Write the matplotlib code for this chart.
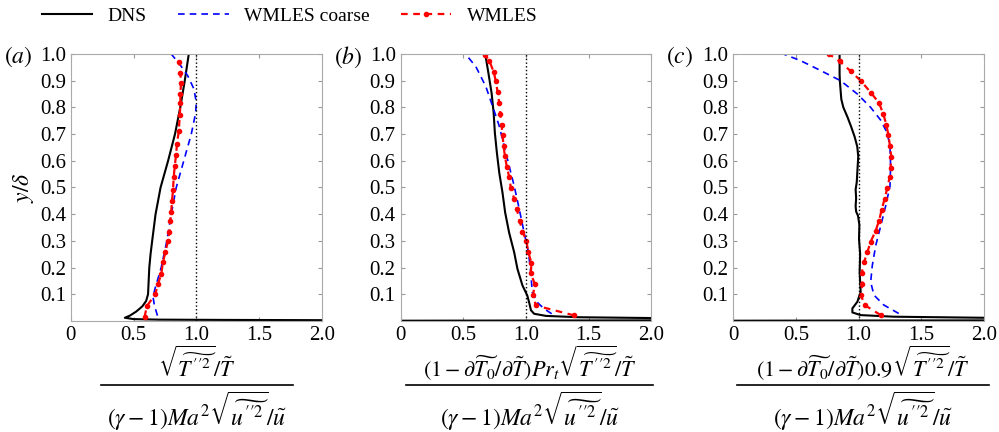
import matplotlib
matplotlib.use('Agg')
import matplotlib.pyplot as plt
from matplotlib.lines import Line2D

plt.rcParams['font.family'] = ['Liberation Serif', 'DejaVu Serif']
plt.rcParams['mathtext.fontset'] = 'stix'

# ---- panel (a) ----
a_dns_x = [2.0, 1.2, 0.7, 0.5, 0.43, 0.47, 0.52, 0.57, 0.60, 0.615, 0.62, 0.625, 0.635, 0.648, 0.675, 0.715, 0.775, 0.83, 0.872, 0.908, 0.94]
a_dns_y = [0.003, 0.004, 0.005, 0.007, 0.012, 0.02, 0.035, 0.055, 0.075, 0.10, 0.15, 0.20, 0.25, 0.30, 0.40, 0.50, 0.60, 0.70, 0.80, 0.90, 1.0]
a_crs_x = [0.69, 0.665, 0.655, 0.67, 0.72, 0.765, 0.80, 0.84, 0.90, 0.96, 0.995, 1.0, 0.98, 0.93, 0.87, 0.80]
a_crs_y = [0.02, 0.06, 0.09, 0.12, 0.20, 0.30, 0.40, 0.50, 0.60, 0.70, 0.78, 0.82, 0.87, 0.92, 0.96, 1.0]
a_wm_x = [0.587, 0.606, 0.673, 0.694, 0.72, 0.734, 0.753, 0.774, 0.785, 0.793, 0.80, 0.806, 0.814, 0.82, 0.828, 0.838, 0.846, 0.86, 0.868, 0.873, 0.873, 0.878, 0.873, 0.865]
a_wm_y = [0.015, 0.056, 0.10, 0.138, 0.175, 0.22, 0.257, 0.30, 0.332, 0.376, 0.41, 0.45, 0.49, 0.54, 0.58, 0.62, 0.664, 0.71, 0.77, 0.815, 0.85, 0.89, 0.93, 0.97]

# ---- panel (b) ----
b_dns_x = [0.0, 3.0, 2.0, 1.42, 1.16, 1.065, 1.04, 1.025, 1.01, 0.972, 0.932, 0.906, 0.866, 0.834, 0.813, 0.787, 0.768, 0.752, 0.742, 0.726, 0.70, 0.675]
b_dns_y = [0.001, 0.003, 0.011, 0.014, 0.019, 0.027, 0.04, 0.07, 0.096, 0.133, 0.195, 0.257, 0.33, 0.406, 0.48, 0.555, 0.63, 0.704, 0.78, 0.853, 0.93, 1.0]
b_crs_x = [1.205, 1.144, 1.09, 1.05, 1.038, 1.02, 0.985, 0.946, 0.906, 0.866, 0.826, 0.787, 0.734, 0.68, 0.60, 0.517]
b_crs_y = [0.027, 0.046, 0.07, 0.108, 0.183, 0.257, 0.332, 0.42, 0.506, 0.58, 0.655, 0.73, 0.804, 0.878, 0.953, 1.0]
b_wm_x = [1.383, 1.078, 1.057, 1.07, 1.038, 1.044, 1.017, 1.004, 0.972, 0.95, 0.927, 0.906, 0.88, 0.866, 0.848, 0.832, 0.821, 0.813, 0.805, 0.795, 0.787, 0.774, 0.76, 0.742, 0.707, 0.675]
b_wm_y = [0.021, 0.058, 0.098, 0.139, 0.179, 0.217, 0.26, 0.30, 0.335, 0.375, 0.419, 0.458, 0.497, 0.54, 0.576, 0.617, 0.657, 0.696, 0.735, 0.776, 0.816, 0.856, 0.897, 0.934, 0.975, 0.996]

# ---- panel (c) ----
c_dns_x = [0.0, 3.0, 2.0, 1.28, 1.016, 0.95, 0.95, 0.99, 1.016, 1.008, 1.012, 1.003, 1.006, 0.995, 0.98, 0.976, 0.98, 0.976, 0.985, 0.989, 0.997, 0.989, 0.968, 0.94, 0.91, 0.878, 0.862, 0.856, 0.85, 0.848, 0.848]
c_dns_y = [0.001, 0.003, 0.012, 0.016, 0.022, 0.032, 0.047, 0.072, 0.109, 0.183, 0.25, 0.307, 0.36, 0.394, 0.41, 0.43, 0.46, 0.493, 0.52, 0.554, 0.616, 0.653, 0.69, 0.728, 0.765, 0.80, 0.83, 0.864, 0.90, 0.926, 1.0]
c_crs_x = [1.32, 1.20, 1.122, 1.096, 1.109, 1.136, 1.176, 1.215, 1.25, 1.255, 1.25, 1.229, 1.176, 1.096, 0.99, 0.856, 0.697, 0.537, 0.40]
c_crs_y = [0.028, 0.06, 0.097, 0.146, 0.208, 0.282, 0.356, 0.43, 0.505, 0.58, 0.653, 0.703, 0.752, 0.80, 0.85, 0.90, 0.938, 0.975, 1.0]
c_wm_x = [1.176, 1.05, 1.016, 1.03, 1.024, 1.043, 1.069, 1.096, 1.136, 1.162, 1.184, 1.207, 1.229, 1.247, 1.255, 1.26, 1.25, 1.237, 1.221, 1.197, 1.162, 1.10, 1.016, 0.936, 0.848, 0.763]
c_wm_y = [0.022, 0.059, 0.099, 0.14, 0.179, 0.22, 0.257, 0.297, 0.338, 0.375, 0.416, 0.458, 0.499, 0.538, 0.573, 0.616, 0.656, 0.697, 0.735, 0.775, 0.817, 0.854, 0.90, 0.936, 0.973, 1.0]

panels = [
    ('a', a_dns_x, a_dns_y, a_crs_x, a_crs_y, a_wm_x, a_wm_y),
    ('b', b_dns_x, b_dns_y, b_crs_x, b_crs_y, b_wm_x, b_wm_y),
    ('c', c_dns_x, c_dns_y, c_crs_x, c_crs_y, c_wm_x, c_wm_y),
]

numerators = [
    r"$\sqrt{\widetilde{T^{\prime\prime 2}}}/\tilde{T}$",
    r"$(1-\partial\widetilde{T_0}/\partial\tilde{T})Pr_t\sqrt{\widetilde{T^{\prime\prime 2}}}/\tilde{T}$",
    r"$(1-\partial\widetilde{T_0}/\partial\tilde{T})0.9\sqrt{\widetilde{T^{\prime\prime 2}}}/\tilde{T}$",
]
denominator = r"$(\gamma-1)Ma^2\sqrt{\widetilde{u^{\prime\prime 2}}}/\tilde{u}$"

xticks = [0, 0.5, 1.0, 1.5, 2.0]
xticklabels = ['0', '0.5', '1.0', '1.5', '2.0']
yticks = [0.1, 0.2, 0.3, 0.4, 0.5, 0.6, 0.7, 0.8, 0.9, 1.0]

fig = plt.figure(figsize=(9.99, 4.32), dpi=100)
lefts = [0.071, 0.401, 0.734]
label_x = [0.197, 0.530, 0.864]
bar_half = [0.096, 0.124, 0.126]

for i, (tag, dx, dy, cx, cy, wx, wy) in enumerate(panels):
    ax = fig.add_axes([lefts[i], 0.257, 0.251, 0.618])
    ax.plot(dx, dy, color='black', lw=1.5, label='DNS')
    ax.plot(cx, cy, color='blue', lw=1.2, ls=(0, (4, 3)), label='WMLES coarse')
    ax.plot(wx, wy, color='red', lw=1.6, ls=(0, (3, 2.5)), marker='o', ms=3, label='WMLES')
    ax.axvline(1.0, color='black', lw=1.0, ls=':')
    ax.set_xlim(0, 2.0)
    ax.set_ylim(0, 1.0)
    ax.set_xticks(xticks)
    ax.set_xticklabels(xticklabels)
    ax.set_yticks(yticks)
    ax.set_yticklabels(['%.1f' % v for v in yticks])
    ax.tick_params(direction='in', colors='#999999', labelcolor='black', labelsize=15,
                   top=True, right=True, length=3)
    for s in ax.spines.values():
        s.set_color('#aaaaaa')
    fig.text(lefts[i] - 0.067, 0.868, r'$(%s)$' % tag, fontsize=17, va='center')

    # x label drawn as a stacked fraction
    fig.text(label_x[i], 0.127, numerators[i], fontsize=16, ha='center', va='baseline')
    fig.text(label_x[i], 0.047, denominator, fontsize=17, ha='center', va='center')
    fig.add_artist(Line2D([label_x[i] - bar_half[i], label_x[i] + bar_half[i]], [0.109, 0.109],
                          transform=fig.transFigure, color='black', lw=1.2))
    if i == 0:
        ax.set_ylabel(r'$y/\delta$', fontsize=17, labelpad=3)
        handles, labels = ax.get_legend_handles_labels()

fig.legend(handles, labels, loc='center', bbox_to_anchor=(0.29, 0.963), ncol=3,
           frameon=False, fontsize=14, handlelength=2.6, columnspacing=1.6)

fig.savefig('out.png', dpi=100)
